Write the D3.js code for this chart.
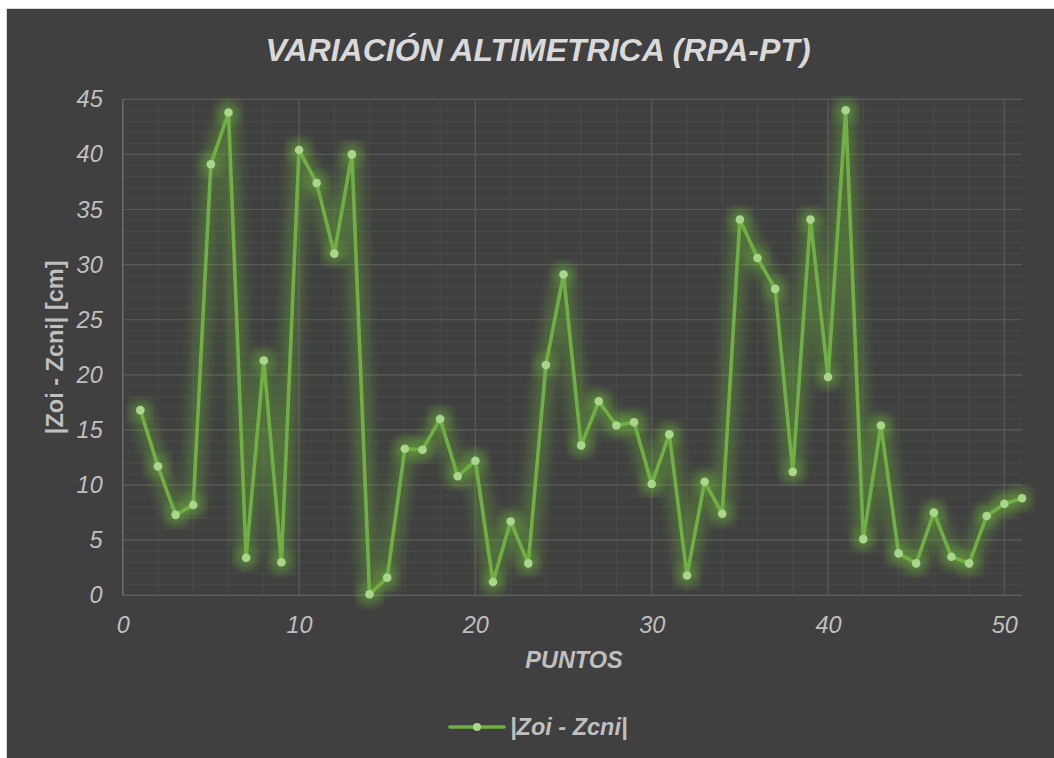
<!DOCTYPE html>
<html>
<head>
<meta charset="utf-8">
<script src="https://cdn.jsdelivr.net/npm/d3@7"></script>
<style>
  html, body { margin: 0; padding: 0; background: #ffffff; }
  svg { display: block; }
  text { font-family: "Liberation Sans", Arial, sans-serif; }
</style>
</head>
<body>
<svg id="chart" width="1054" height="758"></svg>
<script>
// Point numbers along the survey line
const puntos = d3.range(1, 52);

// Absolute height difference |Zoi - Zcni| per point, in cm
const diferencias = [
  16.8, 11.7, 7.3, 8.2, 39.1, 43.8, 3.4, 21.3, 3.0, 40.4,
  37.4, 31.0, 40.0, 0.1, 1.6, 13.3, 13.2, 16.0, 10.8, 12.2,
  1.2, 6.7, 2.9, 20.9, 29.1, 13.6, 17.6, 15.4, 15.7, 10.1,
  14.6, 1.8, 10.3, 7.4, 34.1, 30.6, 27.8, 11.2, 34.1, 19.8,
  44.0, 5.1, 15.4, 3.8, 2.9, 7.5, 3.5, 2.9, 7.2, 8.3, 8.8
];

const xTicks = [0, 10, 20, 30, 40, 50];
const yTicks = [0, 5, 10, 15, 20, 25, 30, 35, 40, 45];

const titulo = "VARIACIÓN ALTIMETRICA (RPA-PT)";
const tituloX = "PUNTOS";
const tituloY = "|Zoi - Zcni| [cm]";
const serie = "|Zoi - Zcni|";

const svg = d3.select("#chart");
const W = 1054, H = 758;
const m = { left: 122.7, right: 1022, top: 99.3, bottom: 595.3 };
const fs = "23.5px";

// Panel background with a thin light frame
svg.append("rect").attr("x", 6).attr("y", 8).attr("width", W - 6).attr("height", H - 8)
  .attr("fill", "#d6d6d6");
svg.append("rect").attr("x", 7).attr("y", 9).attr("width", W - 7).attr("height", H - 9)
  .attr("fill", "#404040");

const x = d3.scaleLinear().domain([0, 51]).range([m.left, m.right]);
const y = d3.scaleLinear().domain([0, 45]).range([m.bottom, m.top]);

const grid = svg.append("g");
// minor gridlines
grid.selectAll(".hmin").data(d3.range(0, 46, 1)).join("line")
  .attr("x1", m.left).attr("x2", m.right)
  .attr("y1", d => y(d)).attr("y2", d => y(d))
  .attr("stroke", "#4b4b4b").attr("stroke-width", 1);
grid.selectAll(".vmin").data(d3.range(0, 51, 2)).join("line")
  .attr("y1", m.top).attr("y2", m.bottom)
  .attr("x1", d => x(d)).attr("x2", d => x(d))
  .attr("stroke", "#4b4b4b").attr("stroke-width", 1);
// major gridlines
grid.selectAll(".hmaj").data(yTicks).join("line")
  .attr("x1", m.left).attr("x2", m.right)
  .attr("y1", d => y(d)).attr("y2", d => y(d))
  .attr("stroke", "#5a5a5a").attr("stroke-width", 1.2);
grid.selectAll(".vmaj").data(xTicks).join("line")
  .attr("y1", m.top).attr("y2", m.bottom)
  .attr("x1", d => x(d)).attr("x2", d => x(d))
  .attr("stroke", "#5a5a5a").attr("stroke-width", 1.2);

// axis lines
svg.append("line").attr("x1", m.left).attr("x2", m.left).attr("y1", m.top).attr("y2", m.bottom)
  .attr("stroke", "#6e6e6e").attr("stroke-width", 1.3);
svg.append("line").attr("x1", m.left).attr("x2", m.right).attr("y1", m.bottom).attr("y2", m.bottom)
  .attr("stroke", "#5e5e5e").attr("stroke-width", 1.3);

// tick labels via d3 axes
const yAxis = svg.append("g").attr("transform", `translate(${m.left},0)`)
  .call(d3.axisLeft(y).tickValues(yTicks).tickSize(0).tickPadding(20));
const xAxis = svg.append("g").attr("transform", `translate(0,${m.bottom})`)
  .call(d3.axisBottom(x).tickValues(xTicks).tickSize(0).tickPadding(21));
[yAxis, xAxis].forEach(a => {
  a.select(".domain").remove();
  a.selectAll("text")
    .attr("fill", "#bfbfbf")
    .style("font-family", "'Liberation Sans', Arial, sans-serif")
    .style("font-size", fs)
    .style("font-style", "italic");
});

// glow filter for the series
const defs = svg.append("defs");
const f = defs.append("filter").attr("id", "glow")
  .attr("x", "-20%").attr("y", "-20%").attr("width", "140%").attr("height", "140%");
f.append("feGaussianBlur").attr("stdDeviation", 7);

const pts = puntos.map((p, i) => [p, diferencias[i]]);
const linea = d3.line().x(d => x(d[0])).y(d => y(d[1]));

svg.append("path").datum(pts).attr("d", linea)
  .attr("fill", "none").attr("stroke", "#6fbf3a").attr("stroke-width", 16)
  .attr("stroke-linejoin", "round").attr("opacity", 0.38).attr("filter", "url(#glow)");
svg.append("g").selectAll("circle").data(pts).join("circle")
  .attr("cx", d => x(d[0])).attr("cy", d => y(d[1])).attr("r", 10)
  .attr("fill", "#7cd040").attr("opacity", 0.4).attr("filter", "url(#glow)");

svg.append("path").datum(pts).attr("d", linea)
  .attr("fill", "none").attr("stroke", "#70b043").attr("stroke-width", 3.6)
  .attr("stroke-linejoin", "round");
svg.append("g").selectAll("circle").data(pts).join("circle")
  .attr("cx", d => x(d[0])).attr("cy", d => y(d[1])).attr("r", 4.3)
  .attr("fill", "#a9d68b");

// titles
svg.append("text").attr("x", 538).attr("y", 61).attr("text-anchor", "middle")
  .attr("fill", "#d9d9d9").style("font-size", "32px").style("font-weight", "bold")
  .style("font-style", "italic").text(titulo);
svg.append("text").attr("x", 574).attr("y", 668).attr("text-anchor", "middle")
  .attr("fill", "#bfbfbf").style("font-size", fs).style("font-weight", "bold")
  .style("font-style", "italic").text(tituloX);
svg.append("text").attr("transform", `translate(63,${(m.top + m.bottom) / 2}) rotate(-90)`)
  .attr("text-anchor", "middle")
  .attr("fill", "#bfbfbf").style("font-size", fs).style("font-weight", "bold")
  .text(tituloY);

// legend
const lg = svg.append("g");
lg.append("line").attr("x1", 450).attr("x2", 504).attr("y1", 727).attr("y2", 727)
  .attr("stroke", "#70b043").attr("stroke-width", 3.6).attr("stroke-linecap", "round");
lg.append("circle").attr("cx", 477).attr("cy", 727).attr("r", 4).attr("fill", "#a9d68b");
lg.append("text").attr("x", 510).attr("y", 735)
  .attr("fill", "#bfbfbf").style("font-size", fs).style("font-weight", "bold")
  .style("font-style", "italic").text(serie);
</script>
</body>
</html>
